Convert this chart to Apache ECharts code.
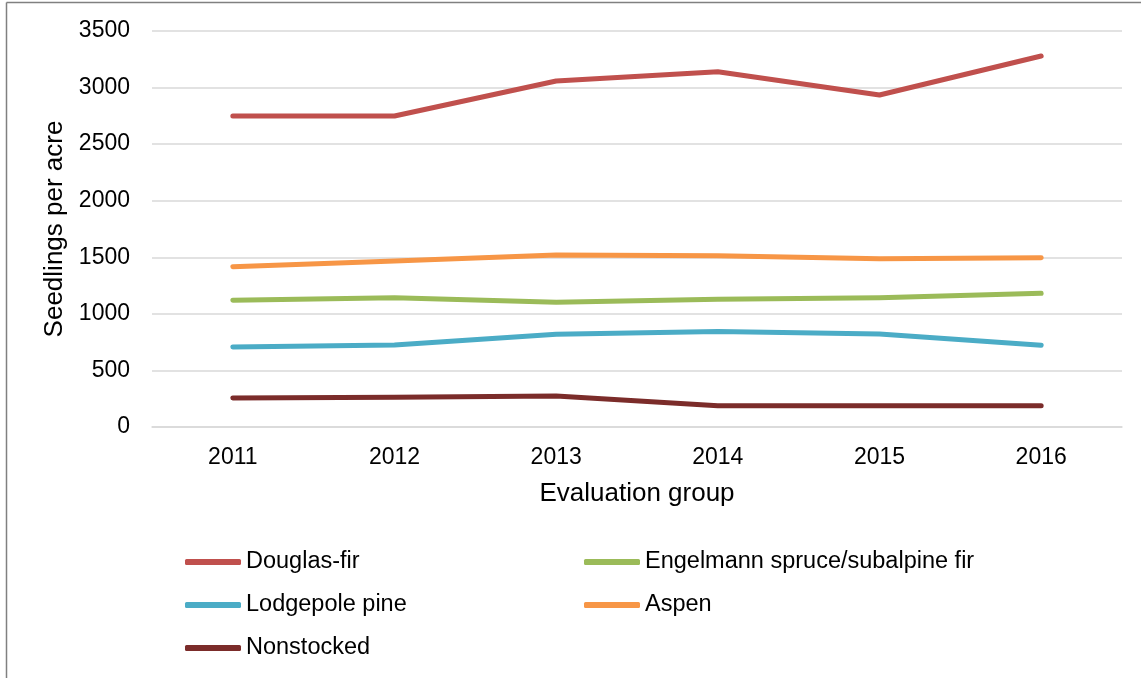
<!DOCTYPE html>
<html>
<head>
<meta charset="utf-8">
<script src="https://cdn.jsdelivr.net/npm/echarts@6/dist/echarts.min.js"></script>
<style>
  html, body { margin: 0; padding: 0; background: #fff; }
  #chart { width: 1141px; height: 678px; }
</style>
</head>
<body>
<div id="chart"></div>
<script>
// evaluation groups (x axis)
const years = ['2011', '2012', '2013', '2014', '2015', '2016']

// seedlings per acre
const douglasFir = [2749, 2749, 3058, 3140, 2934, 3279]
const engelmann = [1120, 1143, 1102, 1129, 1143, 1182]
const lodgepole = [707, 725, 819, 843, 822, 722]
const aspen = [1417, 1467, 1520, 1514, 1488, 1497]
const nonstocked = [256, 262, 274, 188, 188, 188]

const seriesNames = ['Douglas-fir', 'Engelmann spruce/subalpine fir', 'Lodgepole pine', 'Aspen', 'Nonstocked']
const seriesData = [douglasFir, engelmann, lodgepole, aspen, nonstocked]
const colors = ['#C0504D', '#9BBB59', '#4BACC6', '#F79646', '#7B2C2A']

const font = 'Liberation Sans, Arial, sans-serif'

function makeLegend (names, left) {
  return {
    data: names,
    orient: 'vertical',
    left: left,
    top: 550,
    padding: 0,
    icon: 'roundRect',
    itemWidth: 56,
    itemHeight: 6,
    itemGap: 19,
    textStyle: { fontFamily: font, fontSize: 23.5, color: '#000', lineHeight: 24 }
  }
}

const chart = echarts.init(document.getElementById('chart'))
chart.setOption({
  animation: false,
  color: colors,
  graphic: [
    { type: 'line', shape: { x1: 6.5, y1: 2.5, x2: 6.5, y2: 678 }, style: { stroke: '#808080', lineWidth: 1.5 } },
    { type: 'line', shape: { x1: 6.5, y1: 2.5, x2: 1141, y2: 2.5 }, style: { stroke: '#808080', lineWidth: 1.5 } }
  ],
  grid: { left: 152, right: 19, top: 31, bottom: 251 },
  legend: [
    makeLegend(['Douglas-fir', 'Lodgepole pine', 'Nonstocked'], 185),
    makeLegend(['Engelmann spruce/subalpine fir', 'Aspen'], 584)
  ],
  xAxis: {
    type: 'category',
    data: years,
    boundaryGap: true,
    name: 'Evaluation group',
    nameLocation: 'middle',
    nameGap: 54,
    nameTextStyle: { fontFamily: font, fontSize: 26, color: '#000' },
    axisLine: { lineStyle: { color: '#d9d9d9', width: 1.5 } },
    axisTick: { show: false },
    axisLabel: { fontFamily: font, fontSize: 23, color: '#000', margin: 19 }
  },
  yAxis: {
    type: 'value',
    min: 0,
    max: 3500,
    interval: 500,
    name: 'Seedlings per acre',
    nameLocation: 'middle',
    nameGap: 72,
    nameTextStyle: { fontFamily: font, fontSize: 26, color: '#000' },
    axisLine: { show: false },
    axisTick: { show: false },
    axisLabel: { fontFamily: font, fontSize: 23, color: '#000', margin: 22, formatter: function (v) { return String(v) } },
    splitLine: { lineStyle: { color: '#d9d9d9', width: 1.5 } }
  },
  series: seriesNames.map(function (name, i) {
    return {
      name: name,
      type: 'line',
      data: seriesData[i],
      showSymbol: false,
      symbol: 'none',
      lineStyle: { width: 5, cap: 'round', join: 'round' }
    }
  })
})
</script>
</body>
</html>
